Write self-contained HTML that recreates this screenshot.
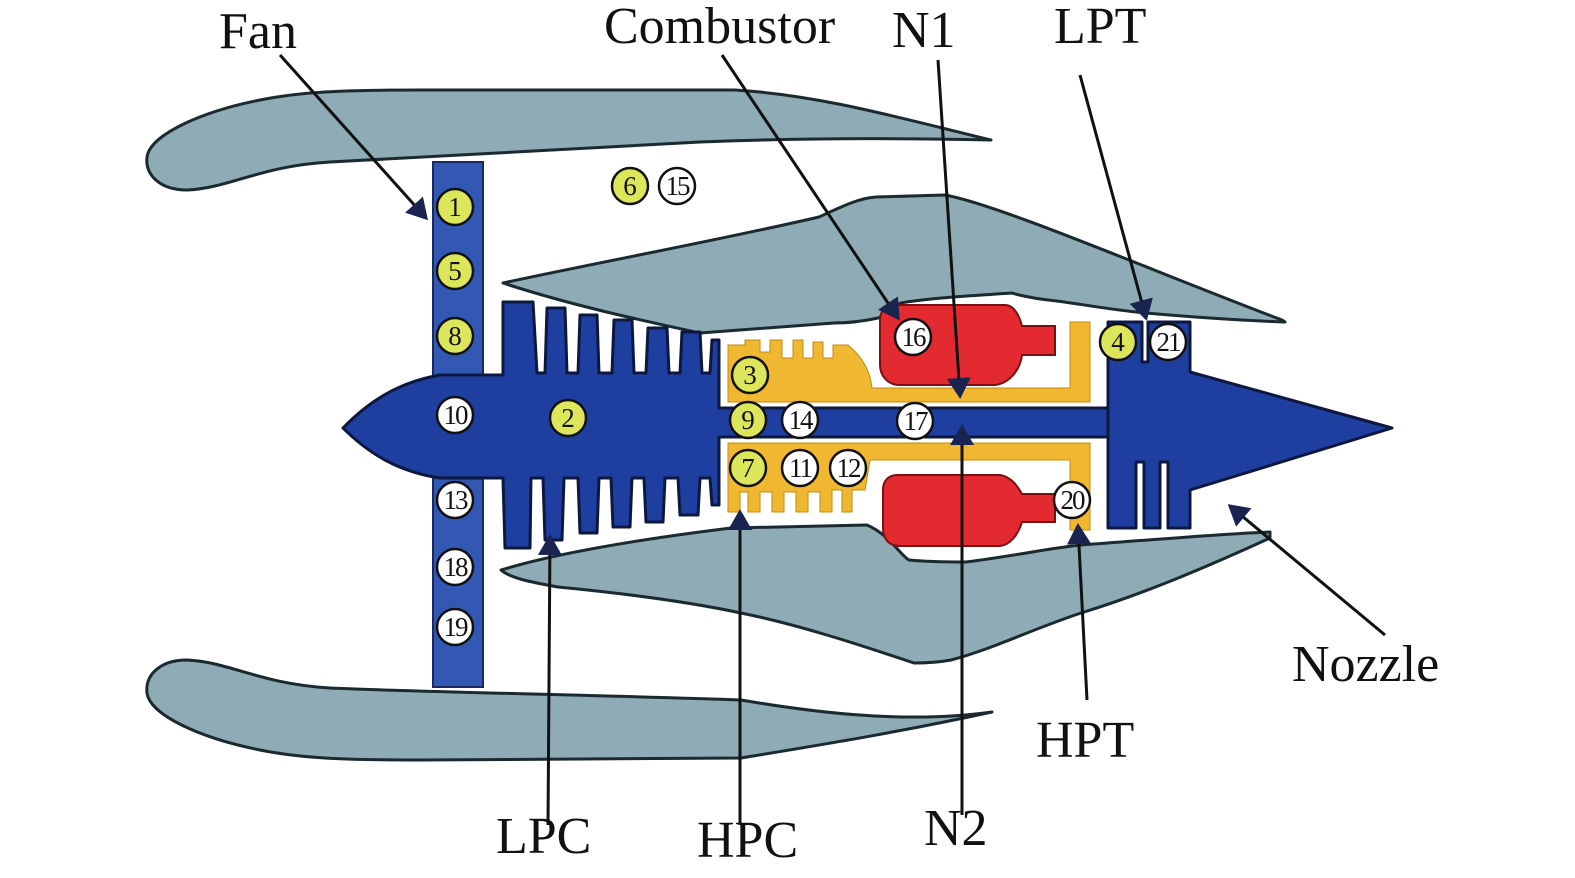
<!DOCTYPE html>
<html><head><meta charset="utf-8"><style>
html,body{margin:0;padding:0;background:#fff;}
svg{display:block;}
text{font-family:"Liberation Serif",serif;}
</style></head><body>
<svg width="1575" height="878" viewBox="0 0 1575 878" xmlns="http://www.w3.org/2000/svg">
<defs>
<marker id="ah" markerWidth="8" markerHeight="8" refX="6" refY="4" orient="auto" markerUnits="strokeWidth">
<path d="M0,0 L7,4 L0,8 Z" fill="#1a2450"/></marker>
</defs>
<g fill="#8fabb5" stroke="#1b2a30" stroke-width="3" stroke-linejoin="round">
<path d="M147,157 C150,135 200,112 260,100 C300,92 340,90 420,90 L735,90 C820,95 900,118 991,140 C900,138 800,138 700,142 C560,150 420,158 330,162 C260,166 230,188 187,190 C160,190 145,175 147,157 Z"/>
<path d="M147,693 C150,715 200,738 260,750 C300,758 340,760 420,760 L741,758 C820,745 900,732 992,712 C900,725 800,710 741,700 C600,695 420,692 330,688 C260,684 230,662 187,660 C160,660 145,675 147,693 Z"/>
<path d="M503,283 C600,262 720,240 819,217 C845,205 860,198 876,197 L945,195 C1000,205 1150,270 1282,320 L1285,322 C1230,320 1180,316 1146,313 C1110,310 1070,302 1048,300 C1030,298 1015,294 1012,293 C980,295 930,298 901,303 C890,308 885,315 878,318 C860,322 845,323 834,323 C780,327 740,330 700,333 C640,320 570,305 503,283 Z"/>
<path d="M501,570 C560,552 650,538 731,528 L867,525 C890,535 900,555 909,560 C930,562 950,562 966,562 C1020,555 1050,548 1081,545 C1150,540 1220,534 1270,532 L1270,538 C1200,570 1140,595 1081,613 C1030,630 990,650 951,660 C935,663 920,663 914,663 C860,645 800,625 741,613 C680,600 610,592 558,587 C530,582 510,578 501,570 Z"/>
</g>
<rect x="433" y="162" width="50" height="525" fill="#3358b4" stroke="#1a2a60" stroke-width="2"/>
<path fill="#1e3fa0" stroke="#0d1840" stroke-width="3" stroke-linejoin="round" d="
M343,428 C370,400 400,382 440,375 L503,375 L503,302 L533,302 L537,373 L545,373 L547,308 L565,308 L567,373 L578,373 L580,315 L597,315 L599,373 L612,373 L614,320 L632,320 L634,373 L646,373 L648,328 L667,328 L669,373 L680,373 L682,332 L700,332 L702,373 L710,373 L712,340 L719,340 L719,408 L1108,408 L1108,437 L719,437 L719,505 L712,505 L710,478 L700,478 L698,515 L680,515 L678,478 L665,478 L663,522 L646,522 L644,478 L632,478 L630,527 L613,527 L611,478 L599,478 L597,533 L580,533 L578,478 L564,478 L562,540 L545,540 L543,478 L531,478 L530,548 L505,548 L503,478 L440,478 C400,472 370,455 343,428 Z"/>
<path fill="#f0b830" stroke="#c08a10" stroke-width="1" d="M728,345 L745,345 L745,340 L760,340 L760,352 L770,352 L770,340 L782,340 L782,358 L793,358 L793,340 L803,340 L803,358 L813,358 L813,342 L823,342 L823,358 L833,358 L833,345 L848,345 C860,355 870,368 872,388 L1070,388 L1070,322 L1090,322 L1090,402 L728,402 Z"/>
<path fill="#f0b830" stroke="#c08a10" stroke-width="1" d="M728,443 L1090,443 L1090,530 L1070,530 L1070,460 L870,460 L865,490 L852,490 L852,512 L842,512 L842,490 L832,490 L832,512 L820,512 L820,492 L808,492 L808,512 L796,512 L796,492 L784,492 L784,512 L772,512 L772,492 L760,492 L760,512 L748,512 L748,492 L740,492 L740,512 L728,512 Z"/>
<path fill="#e22a30" stroke="#7a1010" stroke-width="2" d="M895,305 L1005,305 C1015,305 1020,318 1022,326 L1055,326 L1055,355 L1022,355 C1020,370 1010,383 995,385 L900,385 C887,385 880,375 880,365 L880,320 C880,310 887,305 895,305 Z"/>
<path fill="#e22a30" stroke="#7a1010" stroke-width="2" d="M898,475 L1000,475 C1012,477 1018,487 1022,494 L1055,494 L1055,522 L1022,522 C1018,535 1010,545 1000,546 L900,546 C888,546 883,538 883,528 L883,490 C883,481 888,475 898,475 Z"/>
<path fill="#1e3fa0" stroke="#0d1840" stroke-width="3" stroke-linejoin="round" d="M1108,322 L1142,322 L1142,362 L1148,362 L1148,322 L1190,322 L1190,372 L1392,428 L1190,490 L1190,528 L1168,528 L1168,462 L1160,462 L1160,528 L1144,528 L1144,462 L1136,462 L1136,528 L1108,528 Z"/>
<g stroke="#111" stroke-width="2.5">
<g fill="#dde65a">
<circle cx="455" cy="207" r="18"/><circle cx="455" cy="271" r="18"/><circle cx="455" cy="336" r="18"/>
<circle cx="568" cy="418" r="18"/><circle cx="630" cy="186" r="18"/><circle cx="750" cy="375" r="18"/>
<circle cx="748" cy="420" r="18"/><circle cx="748" cy="468" r="18"/><circle cx="1118" cy="342" r="18"/>
</g>
<g fill="#fff">
<circle cx="455" cy="415" r="18"/><circle cx="455" cy="500" r="18"/><circle cx="455" cy="567" r="18"/><circle cx="455" cy="627" r="18"/>
<circle cx="677" cy="186" r="18"/><circle cx="800" cy="420" r="18"/><circle cx="800" cy="468" r="18"/><circle cx="848" cy="468" r="18"/>
<circle cx="913" cy="337" r="18"/><circle cx="915" cy="421" r="18"/><circle cx="1072" cy="500" r="18"/><circle cx="1168" cy="342" r="18"/>
</g>
</g>
<g fill="#111" font-size="27" text-anchor="middle">
<text x="455" y="216">1</text><text x="455" y="280">5</text><text x="455" y="345">8</text>
<text x="568" y="427">2</text><text x="630" y="195">6</text><text x="750" y="384">3</text>
<text x="748" y="429">9</text><text x="748" y="477">7</text><text x="1118" y="351">4</text>
<text x="455" y="424" letter-spacing="-2">10</text><text x="455" y="509" letter-spacing="-2">13</text>
<text x="455" y="576" letter-spacing="-2">18</text><text x="455" y="636" letter-spacing="-2">19</text>
<text x="677" y="195" letter-spacing="-2">15</text><text x="800" y="429" letter-spacing="-2">14</text>
<text x="800" y="477" letter-spacing="-2">11</text><text x="848" y="477" letter-spacing="-2">12</text>
<text x="913" y="346" letter-spacing="-2">16</text><text x="915" y="430" letter-spacing="-2">17</text>
<text x="1072" y="509" letter-spacing="-2">20</text><text x="1168" y="351" letter-spacing="-2">21</text>
</g>
<g stroke="#111" stroke-width="3" fill="none" marker-end="url(#ah)">
<line x1="280" y1="55" x2="426" y2="218"/>
<line x1="722" y1="55" x2="898" y2="318"/>
<line x1="938" y1="60" x2="960" y2="396"/>
<line x1="1080" y1="75" x2="1146" y2="318"/>
<line x1="548" y1="825" x2="550" y2="537"/>
<line x1="740" y1="825" x2="740" y2="512"/>
<line x1="962" y1="815" x2="962" y2="427"/>
<line x1="1087" y1="700" x2="1078" y2="526"/>
<line x1="1385" y1="635" x2="1230" y2="506"/>
</g>
<g fill="#111" font-size="52">
<text x="219" y="48">Fan</text>
<text x="604" y="43">Combustor</text>
<text x="892" y="47">N1</text>
<text x="1054" y="43">LPT</text>
<text x="1292" y="681">Nozzle</text>
<text x="1036" y="757">HPT</text>
<text x="924" y="845">N2</text>
<text x="496" y="853">LPC</text>
<text x="697" y="857">HPC</text>
</g>
</svg>
</body></html>
